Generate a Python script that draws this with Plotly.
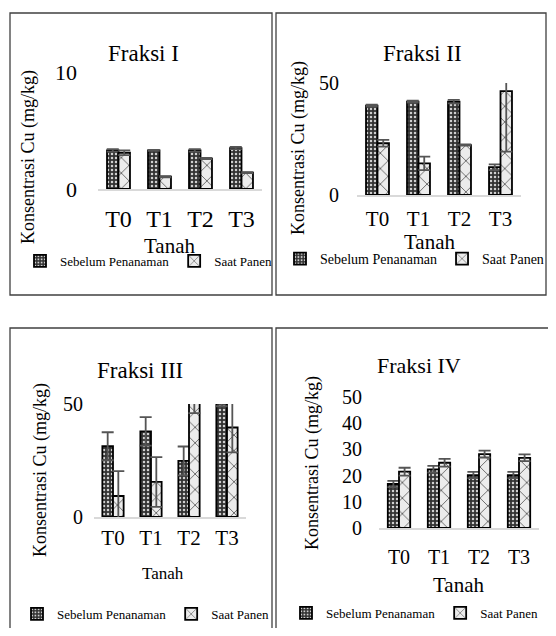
import plotly.graph_objects as go

# page body has an 8px margin: figure is 540x620 so the page is exactly 556x636
W, H = 540, 620
OFF = 8
FONT = "Liberation Serif"

categories = ["T0", "T1", "T2", "T3"]
series_names = ["Sebelum Penanaman", "Saat Panen"]

# Fraksi I
f1_sebelum = [3.3, 3.3, 3.3, 3.5]
f1_sebelum_err = [0.1, 0.05, 0.1, 0.1]
f1_panen = [3.1, 1.05, 2.6, 1.4]
f1_panen_err = [0.2, 0.05, 0.05, 0.05]

# Fraksi II
f2_sebelum = [39.9, 41.7, 41.7, 12.4]
f2_sebelum_err = [0.4, 0.4, 0.8, 1.3]
f2_panen = [23.1, 14.1, 22.3, 46.4]
f2_panen_err = [1.5, 3.0, 0.3, 27.0]

# Fraksi III
f3_sebelum = [31.3, 37.9, 24.8, 60.0]
f3_sebelum_err = [6.2, 6.3, 6.4, 11.0]
f3_panen = [9.3, 15.5, 58.0, 39.6]
f3_panen_err = [11.0, 11.0, 12.0, 11.0]

# Fraksi IV
f4_sebelum = [16.8, 22.4, 20.2, 20.2]
f4_sebelum_err = [1.2, 1.3, 1.2, 1.2]
f4_panen = [21.5, 24.9, 28.2, 26.8]
f4_panen_err = [1.5, 1.5, 1.3, 1.3]

titles = ["Fraksi I", "Fraksi II", "Fraksi III", "Fraksi IV"]
x_title = "Tanah"
y_title = "Konsentrasi Cu (mg/kg)"


def X(px):
    return (px - OFF) / W


def Y(py):
    return 1 - (py - OFF) / H


panels = [
    dict(data=(f1_sebelum, f1_sebelum_err, f1_panen, f1_panen_err),
         xd=(98, 262), y0=189, ytop=72, rng=[0, 10], tickvals=[0, 10],
         tickfont=22, xtickfont=24, title_xy=(143, 53), title_size=23,
         xt_xy=(170, 246), xt_size=21, yt_xy=(28, 157), yt_size=18,
         leg_x=20, leg_y=261, leg_size=13, ystand=20, xstand=7),
    dict(data=(f2_sebelum, f2_sebelum_err, f2_panen, f2_panen_err),
         xd=(357, 521), y0=195, ytop=83, rng=[0, 50], tickvals=[0, 50],
         tickfont=20, xtickfont=21, title_xy=(422, 53), title_size=23,
         xt_xy=(430, 242), xt_size=21, yt_xy=(298, 148), yt_size=18,
         leg_x=280, leg_y=259, leg_size=14, ystand=17, xstand=4),
    dict(data=(f3_sebelum, f3_sebelum_err, f3_panen, f3_panen_err),
         xd=(94, 246), y0=517, ytop=404, rng=[0, 50], tickvals=[0, 50],
         tickfont=20, xtickfont=21, title_xy=(140, 370), title_size=23,
         xt_xy=(163, 573), xt_size=17, yt_xy=(40, 470), yt_size=18,
         leg_x=17, leg_y=614, leg_size=13, ystand=10, xstand=1),
    dict(data=(f4_sebelum, f4_sebelum_err, f4_panen, f4_panen_err),
         xd=(379, 539), y0=528, ytop=397, rng=[0, 50], tickvals=[0, 10, 20, 30, 40, 50],
         tickfont=20, xtickfont=20, title_xy=(419, 365), title_size=22,
         xt_xy=(459, 585), xt_size=21, yt_xy=(312, 463), yt_size=18,
         leg_x=286, leg_y=613, leg_size=13, ystand=16, xstand=10),
]

fig = go.Figure()
layout = dict(
    width=W, height=H, autosize=False,
    margin=dict(l=0, r=0, t=0, b=0, pad=0, autoexpand=False),
    paper_bgcolor="white", plot_bgcolor="white",
    font=dict(family=FONT, color="black"),
    barmode="group", bargap=0.44, bargroupgap=0.0,
    annotations=[], shapes=[],
)

for i, p in enumerate(panels):
    n = "" if i == 0 else str(i + 1)
    xa, ya = "x" + n, "y" + n
    leg = "legend" + n
    s, se, pn, pe = p["data"]
    fig.add_trace(go.Bar(
        x=categories, y=s, name=series_names[0], xaxis=xa, yaxis=ya,
        legend=leg, offsetgroup="a",
        marker=dict(color="#333333", line=dict(color="black", width=1.8),
                    pattern=dict(shape=".", fgcolor="#d0d0d0", bgcolor="#333333",
                                 size=4, solidity=0.3, fillmode="replace")),
        error_y=dict(type="data", array=se, color="#555555", thickness=1.8, width=6),
    ))
    fig.add_trace(go.Bar(
        x=categories, y=pn, name=series_names[1], xaxis=xa, yaxis=ya,
        legend=leg, offsetgroup="b",
        marker=dict(color="#ececec", line=dict(color="black", width=1.8),
                    pattern=dict(shape="x", fgcolor="#333333", bgcolor="#ececec",
                                 size=11, solidity=0.12, fillmode="replace")),
        error_y=dict(type="data", array=pe, color="#555555", thickness=1.8, width=6),
    ))
    layout["xaxis" + n] = dict(
        domain=[X(p["xd"][0]), X(p["xd"][1])], anchor=ya,
        showline=True, linecolor="#d9d9d9", linewidth=2,
        ticks="", showgrid=False, zeroline=False,
        tickfont=dict(size=p["xtickfont"], family=FONT, color="black"),
        ticklabelstandoff=p["xstand"],
    )
    layout["yaxis" + n] = dict(
        domain=[Y(p["y0"]), Y(p["ytop"])], anchor=xa, range=p["rng"],
        tickvals=p["tickvals"], showgrid=False, zeroline=False, showline=False,
        ticks="", tickfont=dict(size=p["tickfont"], family=FONT, color="black"),
        ticklabelstandoff=p["ystand"],
    )
    layout[leg] = dict(
        orientation="h", x=X(p["leg_x"]), y=Y(p["leg_y"]),
        xanchor="left", yanchor="middle", bgcolor="rgba(0,0,0,0)",
        font=dict(size=p["leg_size"], family=FONT, color="black"),
        itemwidth=30, tracegroupgap=0,
    )
    layout["annotations"] += [
        dict(text=titles[i], x=X(p["title_xy"][0]), y=Y(p["title_xy"][1]),
             xref="paper", yref="paper", showarrow=False,
             font=dict(size=p["title_size"], family=FONT, color="black"),
             xanchor="center", yanchor="middle"),
        dict(text=x_title, x=X(p["xt_xy"][0]), y=Y(p["xt_xy"][1]),
             xref="paper", yref="paper", showarrow=False,
             font=dict(size=p["xt_size"], family=FONT, color="black"),
             xanchor="center", yanchor="middle"),
        dict(text=y_title, x=X(p["yt_xy"][0]), y=Y(p["yt_xy"][1]),
             xref="paper", yref="paper", showarrow=False, textangle=-90,
             font=dict(size=p["yt_size"], family=FONT, color="black"),
             xanchor="center", yanchor="middle"),
    ]

# panel frames
frames = [(10, 13, 272, 295), (276, 13, 546, 295), (10, 328, 272, 660), (276, 328, 580, 660)]
for (x0, y0, x1, y1) in frames:
    layout["shapes"].append(dict(type="rect", xref="paper", yref="paper",
                                 x0=X(x0), x1=X(x1), y0=Y(y1), y1=Y(y0),
                                 line=dict(color="#404040", width=1.3),
                                 fillcolor="rgba(0,0,0,0)", layer="below"))

fig.update_layout(**layout)
fig.write_html("out.html")
